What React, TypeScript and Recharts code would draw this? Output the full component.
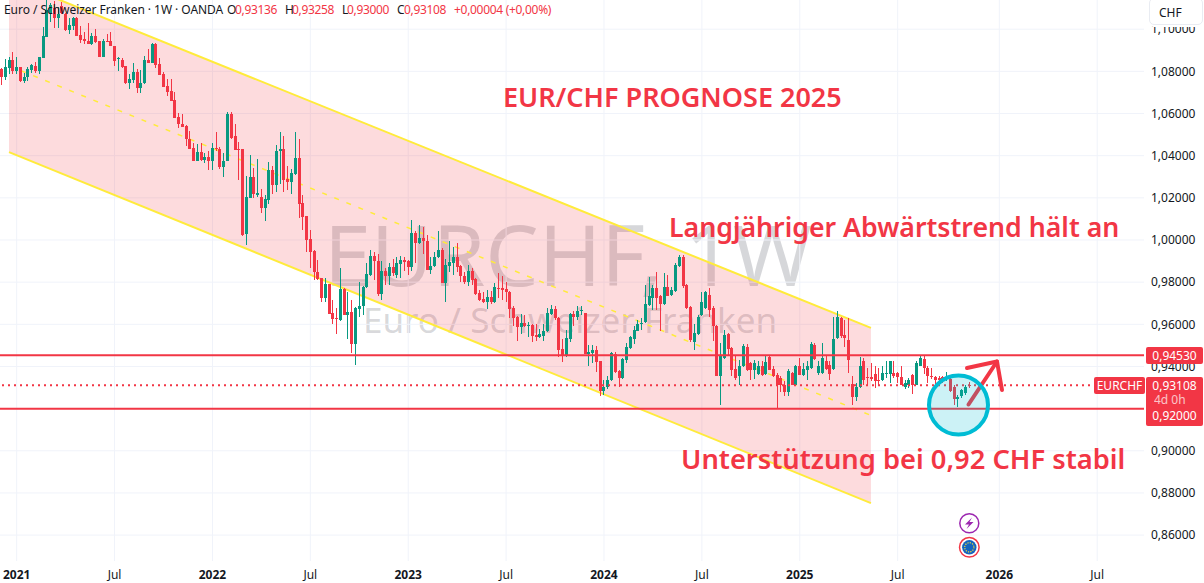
import React from "react";
import { Area, Bar, CartesianGrid, ComposedChart, ReferenceLine, XAxis, YAxis } from "recharts";

// weekly candles. index 0 is the leftmost candle
const opens = [
  1.0812,1.0772,1.0815,1.0854,1.0801,1.0820,1.0755,1.0771,1.0807,1.0826,
  1.0802,1.0861,1.0965,1.1076,1.1100,1.1055,1.1111,1.1073,1.0997,1.1016,
  1.1052,1.0973,1.0952,1.0946,1.0930,1.0968,1.0943,1.0870,1.0943,1.0943,
  1.0921,1.0858,1.0854,1.0826,1.0744,1.0760,1.0798,1.0723,1.0744,1.0854,
  1.0842,1.0930,1.0835,1.0788,1.0731,1.0707,1.0665,1.0583,1.0551,1.0542,
  1.0478,1.0437,1.0377,1.0418,1.0380,1.0393,1.0373,1.0436,1.0433,1.0344,
  1.0376,1.0598,1.0494,1.0432,1.0431,1.0027,1.0200,1.0298,1.0213,1.0206,
  1.0154,1.0190,1.0332,1.0261,1.0420,1.0431,1.0290,1.0273,1.0314,1.0388,
  1.0174,1.0112,1.0004,0.9950,0.9849,0.9819,0.9727,0.9792,0.9653,0.9629,
  0.9621,0.9768,0.9645,0.9657,0.9507,0.9673,0.9689,0.9775,0.9835,0.9925,
  0.9898,0.9746,0.9854,0.9827,0.9871,0.9835,0.9887,0.9906,0.9901,0.9874,
  1.0032,0.9985,1.0010,0.9996,0.9858,0.9879,0.9918,0.9953,0.9798,0.9879,
  0.9890,0.9921,0.9877,0.9830,0.9800,0.9854,0.9815,0.9749,0.9721,0.9704,
  0.9729,0.9704,0.9771,0.9771,0.9766,0.9754,0.9676,0.9635,0.9585,0.9606,
  0.9590,0.9598,0.9550,0.9542,0.9545,0.9566,0.9650,0.9672,0.9629,0.9482,
  0.9451,0.9530,0.9650,0.9634,0.9661,0.9656,0.9458,0.9463,0.9479,0.9427,
  0.9285,0.9302,0.9334,0.9458,0.9379,0.9345,0.9431,0.9487,0.9531,0.9570,
  0.9601,0.9613,0.9692,0.9727,0.9771,0.9732,0.9697,0.9779,0.9737,0.9759,
  0.9877,0.9921,0.9787,0.9681,0.9518,0.9555,0.9645,0.9676,0.9739,0.9676,
  0.9593,0.9353,0.9440,0.9555,0.9487,0.9387,0.9353,0.9400,0.9492,0.9416,
  0.9381,0.9366,0.9400,0.9366,0.9445,0.9387,0.9361,0.9345,0.9313,0.9281,
  0.9371,0.9313,0.9403,0.9361,0.9384,0.9391,0.9503,0.9369,0.9369,0.9427,0.9408,
  0.9388,0.9535,0.9629,0.9551,0.9527,0.9317,0.9257,0.9301,0.9424,0.9350,
  0.9348,0.9365,0.9337,0.9337,0.9365,0.9365,0.9369,0.9368,0.9349,0.9305,
  0.9313,0.9358,0.9313,0.9403,0.9437,0.9395,0.9357,0.9349,0.9345,0.9349,
  0.9340,0.9342,0.9305,0.9247,0.9258,0.9274,0.93136,
];
const highs = [
  1.0815,1.0859,1.0867,1.0891,1.0870,1.0823,1.0791,1.0823,1.0836,1.0843,
  1.0870,1.1012,1.1139,1.1123,1.1135,1.1107,1.1131,1.1076,1.1052,1.1060,
  1.1060,1.1016,1.0986,1.1028,1.0981,1.1000,1.0946,1.0952,1.0978,1.0986,
  1.0921,1.0867,1.0862,1.0826,1.0788,1.0842,1.0810,1.0807,1.0873,1.0905,
  1.0933,1.0933,1.0862,1.0799,1.0763,1.0763,1.0704,1.0602,1.0598,1.0546,
  1.0515,1.0459,1.0456,1.0462,1.0412,1.0420,1.0459,1.0510,1.0441,1.0412,
  1.0605,1.0609,1.0549,1.0464,1.0431,1.0305,1.0404,1.0340,1.0383,1.0241,
  1.0214,1.0369,1.0351,1.0451,1.0511,1.0494,1.0351,1.0335,1.0511,1.0478,
  1.0214,1.0114,1.0048,0.9953,0.9906,0.9822,0.9819,0.9792,0.9716,0.9676,
  0.9866,0.9771,0.9755,0.9713,0.9681,0.9803,0.9783,0.9890,0.9953,0.9945,
  0.9934,0.9898,0.9866,0.9890,0.9909,0.9921,0.9925,0.9921,0.9906,1.0095,
  1.0045,1.0071,1.0064,1.0024,0.9921,0.9945,1.0043,0.9961,0.9909,0.9993,
  0.9969,0.9985,0.9882,0.9850,0.9882,0.9866,0.9819,0.9763,0.9751,0.9763,
  0.9760,0.9798,0.9842,0.9827,0.9803,0.9757,0.9685,0.9638,0.9650,0.9645,
  0.9613,0.9603,0.9603,0.9577,0.9603,0.9676,0.9692,0.9685,0.9634,0.9528,
  0.9574,0.9653,0.9661,0.9685,0.9685,0.9656,0.9503,0.9503,0.9495,0.9427,
  0.9337,0.9353,0.9471,0.9471,0.9384,0.9440,0.9511,0.9545,0.9590,0.9621,
  0.9629,0.9788,0.9824,0.9788,0.9850,0.9739,0.9842,0.9835,0.9779,0.9890,
  0.9929,0.9929,0.9790,0.9685,0.9601,0.9645,0.9755,0.9758,0.9774,0.9685,
  0.9598,0.9511,0.9574,0.9558,0.9492,0.9455,0.9431,0.9506,0.9507,0.9419,
  0.9431,0.9424,0.9424,0.9448,0.9448,0.9400,0.9369,0.9353,0.9329,0.9387,
  0.9376,0.9408,0.9440,0.9416,0.9424,0.9514,0.9511,0.9424,0.9511,0.9451,0.9424,
  0.9637,0.9664,0.9634,0.9619,0.9629,0.9353,0.9321,0.9447,0.9440,0.9392,
  0.9416,0.9400,0.9392,0.9400,0.9427,0.9427,0.9427,0.9376,0.9400,0.9337,
  0.9345,0.9365,0.9424,0.9448,0.9453,0.9400,0.9392,0.9357,0.9353,0.9357,
  0.9372,0.9345,0.9310,0.9266,0.9294,0.9310,0.93258,
];
const lows = [
  1.0736,1.0760,1.0788,1.0788,1.0788,1.0748,1.0744,1.0755,1.0791,1.0791,
  1.0788,1.0861,1.0965,1.1032,1.1005,1.1005,1.1072,1.0993,1.0978,1.0997,
  1.0970,1.0934,1.0929,1.0930,1.0926,1.0934,1.0870,1.0867,1.0937,1.0918,
  1.0827,1.0804,1.0815,1.0741,1.0718,1.0744,1.0699,1.0699,1.0741,1.0839,
  1.0839,1.0815,1.0782,1.0725,1.0681,1.0660,1.0577,1.0531,1.0535,1.0446,
  1.0431,1.0376,1.0374,1.0377,1.0365,1.0330,1.0333,1.0420,1.0337,1.0301,
  1.0374,1.0481,1.0428,1.0285,1.0021,0.9974,1.0197,1.0198,1.0202,1.0127,
  1.0088,1.0171,1.0219,1.0230,1.0266,1.0230,1.0235,1.0219,1.0308,1.0103,
  1.0048,0.9945,0.9866,0.9808,0.9811,0.9704,0.9708,0.9650,0.9602,0.9555,
  0.9618,0.9642,0.9531,0.9463,0.9408,0.9637,0.9645,0.9771,0.9827,0.9811,
  0.9733,0.9716,0.9788,0.9788,0.9827,0.9819,0.9819,0.9855,0.9835,0.9855,
  0.9890,0.9982,0.9934,0.9858,0.9839,0.9874,0.9914,0.9795,0.9708,0.9850,
  0.9835,0.9850,0.9803,0.9792,0.9780,0.9788,0.9739,0.9711,0.9700,0.9672,
  0.9697,0.9700,0.9724,0.9716,0.9708,0.9629,0.9590,0.9523,0.9554,0.9585,
  0.9542,0.9518,0.9523,0.9534,0.9523,0.9563,0.9645,0.9621,0.9447,0.9419,
  0.9447,0.9518,0.9593,0.9621,0.9645,0.9458,0.9403,0.9416,0.9376,0.9258,
  0.9263,0.9293,0.9329,0.9369,0.9305,0.9342,0.9416,0.9482,0.9507,0.9566,
  0.9574,0.9608,0.9687,0.9668,0.9668,0.9566,0.9692,0.9732,0.9732,0.9755,
  0.9874,0.9771,0.9673,0.9514,0.9479,0.9550,0.9640,0.9673,0.9637,0.9521,
  0.9353,0.9215,0.9436,0.9455,0.9353,0.9337,0.9313,0.9397,0.9378,0.9337,
  0.9342,0.9361,0.9353,0.9361,0.9381,0.9350,0.9202,0.9281,0.9258,0.9258,
  0.9310,0.9310,0.9358,0.9353,0.9337,0.9387,0.9431,0.9361,0.9366,0.9384,0.9337,
  0.9385,0.9530,0.9535,0.9491,0.9369,0.9218,0.9234,0.9297,0.9313,0.9310,
  0.9329,0.9297,0.9313,0.9329,0.9345,0.9321,0.9345,0.9323,0.9310,0.9293,
  0.9297,0.9271,0.9310,0.9400,0.9365,0.9321,0.9342,0.9310,0.9321,0.9321,
  0.9329,0.9281,0.9218,0.9210,0.9250,0.9266,0.93,
];
const closes = [
  1.0775,1.0823,1.0854,1.0801,1.0823,1.0755,1.0774,1.0812,1.0828,1.0802,
  1.0866,1.0968,1.1092,1.1115,1.1055,1.1073,1.1076,1.0997,1.1020,1.1052,
  1.0970,1.0949,1.0946,1.0930,1.0968,1.0937,1.0870,1.0946,1.0940,1.0918,
  1.0850,1.0861,1.0820,1.0744,1.0763,1.0798,1.0722,1.0744,1.0854,1.0840,
  1.0930,1.0832,1.0785,1.0728,1.0704,1.0661,1.0580,1.0548,1.0537,1.0478,
  1.0434,1.0377,1.0418,1.0380,1.0393,1.0373,1.0436,1.0433,1.0344,1.0377,
  1.0598,1.0486,1.0428,1.0429,1.0024,1.0203,1.0298,1.0216,1.0225,1.0154,
  1.0193,1.0332,1.0261,1.0423,1.0433,1.0285,1.0273,1.0317,1.0388,1.0171,
  1.0111,1.0001,0.9944,0.9846,0.9816,0.9727,0.9792,0.9650,0.9626,0.9626,
  0.9768,0.9645,0.9657,0.9507,0.9677,0.9689,0.9779,0.9838,0.9925,0.9898,
  0.9746,0.9854,0.9827,0.9871,0.9842,0.9890,0.9906,0.9895,0.9874,1.0032,
  0.9985,1.0010,0.9993,0.9858,0.9879,0.9921,0.9953,0.9798,0.9882,0.9895,
  0.9921,0.9874,0.9827,0.9800,0.9854,0.9811,0.9746,0.9716,0.9704,0.9729,
  0.9704,0.9776,0.9768,0.9763,0.9751,0.9672,0.9632,0.9585,0.9606,0.9590,
  0.9598,0.9545,0.9542,0.9555,0.9566,0.9653,0.9672,0.9629,0.9479,0.9455,
  0.9537,0.9648,0.9634,0.9661,0.9669,0.9461,0.9470,0.9479,0.9422,0.9285,
  0.9305,0.9337,0.9463,0.9376,0.9347,0.9436,0.9492,0.9539,0.9574,0.9601,
  0.9605,0.9697,0.9732,0.9771,0.9725,0.9697,0.9776,0.9735,0.9763,0.9880,
  0.9921,0.9783,0.9676,0.9526,0.9561,0.9634,0.9708,0.9755,0.9669,0.9590,
  0.9355,0.9448,0.9550,0.9484,0.9384,0.9345,0.9403,0.9495,0.9381,0.9381,
  0.9416,0.9400,0.9361,0.9422,0.9384,0.9355,0.9313,0.9313,0.9281,0.9379,
  0.9313,0.9403,0.9361,0.9389,0.9400,0.9506,0.9435,0.9400,0.9440,0.9387,0.9366,
  0.9530,0.9634,0.9543,0.9535,0.9432,0.9257,0.9301,0.9403,0.9337,0.9347,
  0.9342,0.9329,0.9329,0.9369,0.9369,0.9424,0.9355,0.9349,0.9313,0.9321,
  0.9337,0.9313,0.9416,0.9440,0.9392,0.9353,0.9349,0.9337,0.9337,0.9334,
  0.9349,0.9286,0.9245,0.9253,0.9289,0.9305,0.93108,
];

// channel end points, index on the same weekly scale as the candles
const channelWeeks = [1.97, 230.9];
const channelUpper = [1.1236, 0.9583];
const channelLower = [1.0417, 0.8752];
const channelMiddle = [1.0826, 0.9168];

const tickWeeks = [4, 30, 56, 82, 108, 134, 160, 186, 212, 238, 265, 291];
const tickLabels = ["2021", "Jul", "2022", "Jul", "2023", "Jul", "2024", "Jul", "2025", "Jul", "2026", "Jul"];
const priceTicks = [0.86, 0.88, 0.9, 0.92, 0.94, 0.96, 0.98, 1.0, 1.02, 1.04, 1.06, 1.08, 1.1];
// the 0,92 label sits behind its own price tag
const priceLabels = [0.86, 0.88, 0.9, 0.94, 0.96, 0.98, 1.0, 1.02, 1.04, 1.06, 1.08, 1.1];

const resistance = 0.9453;
const support = 0.92;
const lastClose = 0.93108;

const candles = opens.map((open, i) => ({
  t: i,
  open,
  close: closes[i],
  range: [lows[i], highs[i]],
}));
const channel = channelWeeks.map((t, i) => ({
  t,
  band: [channelLower[i], channelUpper[i]],
  mid: channelMiddle[i],
}));

const RED = "#f23645";
const GREEN = "#089981";
const FONT = "'Noto Sans', sans-serif";

function Candle(props: any) {
  const { x, y, width, height, payload } = props;
  const [low, high] = payload.range;
  const yOf = (p: number) => y + ((high - p) / (high - low)) * height;
  const up = payload.close >= payload.open;
  const color = up ? GREEN : RED;
  const cx = Math.round(x + width / 2 - 0.5);
  const top = Math.round(yOf(Math.max(payload.open, payload.close)));
  const bot = Math.round(yOf(Math.min(payload.open, payload.close)));
  return (
    <g shapeRendering="crispEdges">
      <rect x={cx} y={y} width={1} height={height} fill={color} />
      <rect x={cx - 1} y={top} width={3} height={Math.max(bot - top, 1)} fill={color} />
    </g>
  );
}

function TimeTick(props: any) {
  const { x, y, payload } = props;
  const label = tickLabels[tickWeeks.indexOf(payload.value)];
  return (
    <text x={x} y={y + 10} textAnchor="middle" fontFamily={FONT} fontSize={12}
      fontWeight={label === "Jul" ? 400 : 700} fill="#131722">
      {label}
    </text>
  );
}

function Tag({ top, left, width, height, text }: any) {
  return (
    <div style={{
      position: "absolute", top, left, width, height, lineHeight: height + "px", background: RED, color: "#fff",
      fontSize: 12, textAlign: "center", borderRadius: 2,
    }}>
      {text}
    </div>
  );
}

function Note({ left, top, size, text }: any) {
  return (
    <div style={{ position: "absolute", left, top, fontSize: size, fontWeight: 600, color: RED, whiteSpace: "nowrap", lineHeight: 1 }}>
      {text}
    </div>
  );
}

function Legend() {
  const part = (left: number, text: string, color: string, spacing: number) => (
    <span style={{ position: "absolute", left, top: 1, color, whiteSpace: "nowrap", letterSpacing: spacing }}>{text}</span>
  );
  return (
    <div style={{ position: "absolute", left: 0, top: 0, fontSize: 12, lineHeight: "17px" }}>
      {part(4, "Euro / Schweizer Franken · 1W · OANDA", "#131722", -0.05)}
      {part(227, "O", "#131722", 0)}
      {part(235, "0,93136", RED, -0.35)}
      {part(285, "H", "#131722", 0)}
      {part(292, "0,93258", RED, -0.35)}
      {part(342, "L", "#131722", 0)}
      {part(347, "0,93000", RED, -0.35)}
      {part(397, "C", "#131722", 0)}
      {part(404, "0,93108", RED, -0.35)}
      {part(454, "+0,00004 (+0,00%)", RED, -0.3)}
    </div>
  );
}

export default function App() {
  return (
    <div style={{ position: "absolute", left: 0, top: 0, width: 1204, height: 583, fontFamily: FONT, overflow: "hidden", background: "#fff" }}>
      <div style={{ position: "absolute", left: 324, top: 199, fontSize: 84.5, lineHeight: "110px", color: "rgba(120,123,134,0.3)", whiteSpace: "nowrap" }}>
        EURCHF, 1W
      </div>
      <div style={{ position: "absolute", left: 363, top: 298, fontSize: 35, lineHeight: "44px", color: "rgba(120,123,134,0.3)", whiteSpace: "nowrap" }}>
        Euro / Schweizer Franken
      </div>

      <div style={{ position: "absolute", left: 0, top: 0 }}>
        <ComposedChart width={1204} height={583} data={candles} margin={{ top: 0, right: 0, bottom: 0, left: 0 }}>
          <CartesianGrid stroke="#f0f3fa" verticalValues={tickWeeks} horizontalValues={priceTicks} syncWithTicks={false} />
          <XAxis dataKey="t" type="number" domain={[-0.425, 303.43]} allowDataOverflow ticks={tickWeeks} interval={0}
            height={22} axisLine={false} tickLine={false} tick={<TimeTick />} />
          <YAxis orientation="right" width={60} domain={[0.84772, 1.11385]} allowDataOverflow ticks={priceLabels} interval={0}
            axisLine={false} tickLine={false} tick={{ fontSize: 12, fill: "#131722", fontFamily: FONT, dx: -1 }}
            tickFormatter={(v: number) => v.toFixed(5).replace(".", ",")} />
          <Area data={channel} dataKey="band" type="linear" stroke="#ffeb3b" strokeWidth={2} fill={RED} fillOpacity={0.18}
            dot={false} activeDot={false} isAnimationActive={false} legendType="none" />
          <Area data={channel} dataKey="mid" type="linear" stroke="#ffeb3b" strokeWidth={1.5} strokeDasharray="5 8" fill="none"
            dot={false} activeDot={false} isAnimationActive={false} legendType="none" />
          <ReferenceLine y={resistance} stroke={RED} strokeWidth={2} />
          <ReferenceLine y={support} stroke={RED} strokeWidth={2} />
          <ReferenceLine y={lastClose} stroke={RED} strokeWidth={2} strokeDasharray="2 4" />
          <Bar dataKey="range" barSize={3} shape={<Candle />} isAnimationActive={false} />
        </ComposedChart>
      </div>

      <svg width={1204} height={583} style={{ position: "absolute", left: 0, top: 0 }}>
        <g stroke={RED} strokeWidth={4} fill="none" strokeLinecap="round" strokeLinejoin="round">
          <path d="M968.5 404.5 L997 361.5" />
          <path d="M967 368 L997 361.5 L1002 390" />
        </g>
        <circle cx={958.5} cy={405} r={29.5} stroke="#00bcd4" strokeWidth={4} fill="rgba(0,188,212,0.2)" />
        <circle cx={969.3} cy={523.3} r={9.5} stroke="#9c27b0" strokeWidth={1.5} fill="#fff" />
        <path d="M972 517.5 L965 524.5 L969 524.5 L966.5 529 L973.5 522 L969.5 522 Z" fill="#9c27b0" />
        <circle cx={969.3} cy={547.3} r={9.8} stroke={RED} strokeWidth={1.5} fill="#fff" />
        <circle cx={969.3} cy={547.3} r={7.2} fill="#1565c0" />
        <circle cx={969.3} cy={547.3} r={4.6} fill="none" stroke="#fdd835" strokeWidth={1.2} strokeDasharray="1.2 1.2" />
      </svg>

      <Note left={503} top={83} size={27} text="EUR/CHF PROGNOSE 2025" />
      <Note left={669} top={214} size={26.7} text="Langjähriger Abwärtstrend hält an" />
      <Note left={681} top={445} size={27.3} text="Unterstützung bei 0,92 CHF stabil" />

      <Legend />

      <div style={{
        position: "absolute", left: 1149, top: -2, width: 54, height: 27, boxSizing: "border-box", border: "1px solid #e9ecf2",
        borderRadius: 5, background: "#fff", boxShadow: "0 2px 0 #fff", fontSize: 12, lineHeight: "28px", paddingLeft: 9, color: "#131722",
      }}>
        CHF
      </div>

      <Tag top={347} left={1146} width={57} height={17} text="0,94530" />
      <Tag top={377} left={1094} width={51} height={17} text="EURCHF" />
      <div style={{
        position: "absolute", left: 1146, top: 377, width: 57, height: 49, background: RED, color: "#fff",
        borderRadius: 2, fontSize: 12, textAlign: "center",
      }}>
        <div style={{ lineHeight: "17px", height: 17 }}>0,93108</div>
        <div style={{ lineHeight: "12px", height: 12, opacity: 0.7, textAlign: "left", paddingLeft: 8 }}>4d 0h</div>
        <div style={{ lineHeight: "20px", height: 20 }}>0,92000</div>
      </div>
    </div>
  );
}
